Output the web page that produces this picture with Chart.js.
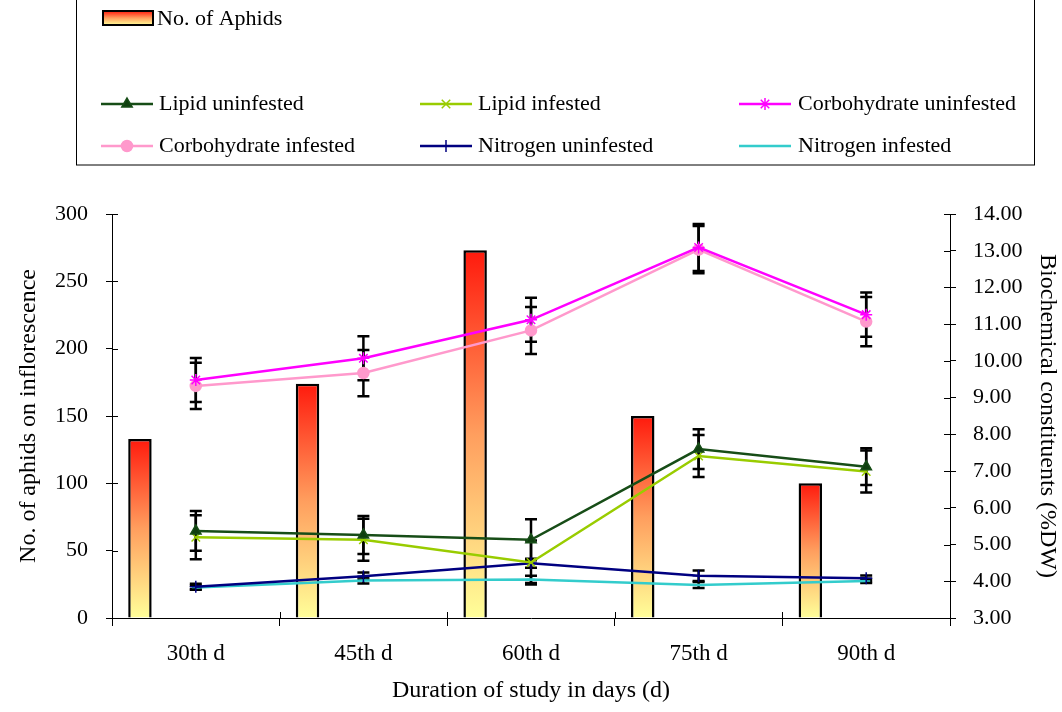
<!DOCTYPE html>
<html><head><meta charset="utf-8">
<script src="https://cdn.jsdelivr.net/npm/chart.js@4.4.1/dist/chart.umd.min.js"></script>
<style>html,body{margin:0;padding:0;background:#fff;}#wrap{width:1062px;height:712px;position:relative;}</style>
</head><body><div id="wrap"><canvas id="c" width="1062" height="712"></canvas></div>
<script>
// ---- data ----
const categories = ['30th d', '45th d', '60th d', '75th d', '90th d'];
const aphids = [133, 174, 273, 150, 100];
const lipidUn = [5.37, 5.26, 5.13, 7.60, 7.12];
const lipidInf = [5.20, 5.13, 4.51, 7.41, 6.99];
const carbUn = [9.48, 10.07, 11.12, 13.09, 11.26];
const carbInf = [9.32, 9.67, 10.83, 13.03, 11.07];
const nitUn = [3.85, 4.14, 4.49, 4.15, 4.08];
const nitInf = [3.83, 4.02, 4.05, 3.90, 4.01];
const lipidUnErr = [0.54, 0.52, 0.56, 0.54, 0.50];
const lipidInfErr = [0.60, 0.57, 0.60, 0.57, 0.57];
const carbUnErr = [0.60, 0.60, 0.60, 0.64, 0.60];
const carbInfErr = [0.63, 0.63, 0.64, 0.64, 0.67];
const nitUnErr = [0.08, 0.10, 0.12, 0.14, 0.08];
const nitInfErr = [0.05, 0.08, 0.10, 0.08, 0.06];
const spacer = [null, null, null, null, null];
const leftTicks = [0, 50, 100, 150, 200, 250, 300];
const rightTicks = [3, 4, 5, 6, 7, 8, 9, 10, 11, 12, 13, 14];

const FONT = "'Liberation Serif', 'Times New Roman', serif";

function makeGrad(c, top, bot) {
  const g = c.createLinearGradient(0, top, 0, bot);
  g.addColorStop(0, '#FF1A0D');
  g.addColorStop(0.5, '#FF9E5E');
  g.addColorStop(1, '#FFFF99');
  return g;
}
function barGradient(ctx) {
  const chart = ctx.chart;
  if (!chart.chartArea || ctx.type !== 'data' || ctx.raw == null) return '#FF9E5E';
  const y = chart.scales.y;
  return makeGrad(chart.ctx, y.getPixelForValue(ctx.raw), y.getPixelForValue(0));
}

const lineBase = {type: 'line', yAxisID: 'y1', borderWidth: 2.5, fill: false, tension: 0, order: 1, pointBorderWidth: 1.5};
const datasets = [
  {type: 'bar', label: 'No. of Aphids', data: aphids, yAxisID: 'y', backgroundColor: barGradient, borderColor: '#000', borderWidth: 2.5, barPercentage: 0.42, categoryPercentage: 1, order: 10},
  {type: 'bar', label: '', data: spacer, yAxisID: 'y', barPercentage: 0.42, categoryPercentage: 1, order: 10},
  {type: 'bar', label: '', data: spacer, yAxisID: 'y', barPercentage: 0.42, categoryPercentage: 1, order: 10},
  Object.assign({}, lineBase, {label: 'Lipid uninfested', data: lipidUn, err: lipidUnErr, borderColor: '#174D17', backgroundColor: '#0F3F0F', pointStyle: 'triangle', pointRadius: 6}),
  Object.assign({}, lineBase, {label: 'Lipid infested', data: lipidInf, err: lipidInfErr, borderColor: '#99CC00', backgroundColor: '#99CC00', pointStyle: 'crossRot', pointRadius: 6}),
  Object.assign({}, lineBase, {label: 'Corbohydrate uninfested', data: carbUn, err: carbUnErr, borderColor: '#FF00FF', backgroundColor: '#FF00FF', pointStyle: 'star', pointRadius: 6}),
  Object.assign({}, lineBase, {label: 'Corbohydrate infested', data: carbInf, err: carbInfErr, borderColor: '#FF99CC', backgroundColor: '#FF99CC', pointStyle: 'circle', pointRadius: 5.5}),
  Object.assign({}, lineBase, {label: 'Nitrogen uninfested', data: nitUn, err: nitUnErr, borderColor: '#000080', backgroundColor: '#000080', pointStyle: 'cross', pointRadius: 6}),
  Object.assign({}, lineBase, {label: 'Nitrogen infested', data: nitInf, err: nitInfErr, borderColor: '#33CCCC', backgroundColor: '#33CCCC', pointStyle: 'line', pointRadius: 4})
];

const errorBars = {
  id: 'errorBars',
  beforeDatasetsDraw(chart) {
    const c = chart.ctx, x = chart.scales.x, y1 = chart.scales.y1;
    c.save();
    c.strokeStyle = '#000'; c.lineWidth = 2.5; c.lineCap = 'butt';
    chart.data.datasets.forEach(ds => {
      if (!ds.err) return;
      ds.data.forEach((v, i) => {
        const px = x.getPixelForValue(i);
        const t = y1.getPixelForValue(v + ds.err[i]);
        const b = y1.getPixelForValue(v - ds.err[i]);
        c.beginPath();
        c.moveTo(px, t); c.lineTo(px, b);
        c.moveTo(px - 6, t); c.lineTo(px + 6, t);
        c.moveTo(px - 6, b); c.lineTo(px + 6, b);
        c.stroke();
      });
    });
    c.restore();
  }
};

const crossTicks = {
  id: 'crossTicks',
  afterDraw(chart) {
    const c = chart.ctx, {x, y, y1} = chart.scales;
    c.save(); c.strokeStyle = '#000'; c.lineWidth = 1;
    c.beginPath();
    y.ticks.forEach((t, i) => { const p = Math.round(y.getPixelForTick(i)) + 0.5; c.moveTo(y.right, p); c.lineTo(y.right + 6, p); });
    y1.ticks.forEach((t, i) => { const p = Math.round(y1.getPixelForTick(i)) + 0.5; c.moveTo(y1.left - 6, p); c.lineTo(y1.left, p); });
    for (let i = 0; i <= categories.length; i++) { const p = Math.round(x.getPixelForValue(i - 0.5)) + 0.5; c.moveTo(p, x.top - 6); c.lineTo(p, x.top); }
    c.stroke();
    c.restore();
  }
};

const customLegend = {
  id: 'customLegend',
  afterDraw(chart) {
    const c = chart.ctx;
    c.save();
    c.strokeStyle = '#000'; c.lineWidth = 1;
    c.strokeRect(76.5, -2, 958, 167);
    c.font = '22px ' + FONT; c.fillStyle = '#000'; c.textBaseline = 'middle'; c.textAlign = 'left';
    // bar entry
    c.fillStyle = makeGrad(c, 11, 25);
    c.fillRect(103, 11, 50, 14);
    c.strokeStyle = '#000'; c.lineWidth = 2; c.strokeRect(103, 11, 50, 14);
    c.fillStyle = '#000';
    c.fillText(chart.data.datasets[0].label, 157, 19);
    const cols = [[101, 159], [420, 478], [739, 798]];
    const rows = [104, 146];
    const lines = chart.data.datasets.filter(d => d.type === 'line');
    lines.forEach((d, k) => {
      const col = cols[k % 3], ry = rows[Math.floor(k / 3)];
      c.strokeStyle = d.borderColor; c.lineWidth = 2.5;
      c.beginPath(); c.moveTo(col[0], ry); c.lineTo(col[0] + 52, ry); c.stroke();
      c.fillStyle = d.backgroundColor; c.lineWidth = 1.5;
      Chart.helpers.drawPoint(c, {pointStyle: d.pointStyle, radius: d.pointRadius, rotation: 0, borderWidth: 1.5}, col[0] + 26, ry);
      c.fillStyle = '#000';
      c.fillText(d.label, col[1], ry);
    });
    c.restore();
  }
};

new Chart(document.getElementById('c'), {
  type: 'bar',
  data: {labels: categories, datasets: datasets},
  options: {
    responsive: false, animation: false,
    layout: {padding: {top: 214, left: 0, right: 0, bottom: 0}},
    plugins: {legend: {display: false}, tooltip: {enabled: false}},
    scales: {
      x: {
        type: 'category', offset: true,
        grid: {offset: true, drawOnChartArea: false, color: '#000', tickLength: 8, tickColor: '#000'},
        border: {color: '#000', width: 1},
        ticks: {color: '#000', font: {family: FONT, size: 23}, padding: 14, maxRotation: 0},
        title: {display: true, text: 'Duration of study in days (d)', color: '#000', font: {family: FONT, size: 24}, padding: {top: 0, bottom: 7}},
        afterFit(s) { s.height = 94; }
      },
      y: {
        position: 'left', min: 0, max: 300,
        afterBuildTicks(s) { s.ticks = leftTicks.map(v => ({value: v})); },
        grid: {drawOnChartArea: false, color: '#000', tickLength: 6, tickColor: '#000'},
        border: {color: '#000', width: 1},
        ticks: {color: '#000', font: {family: FONT, size: 22}, padding: 18},
        title: {display: true, text: 'No. of aphids on inflorescence', color: '#000', font: {family: FONT, size: 24}, padding: {top: 14, bottom: 0}},
        afterFit(s) { s.width = 112; }
      },
      y1: {
        position: 'right', min: 3, max: 14,
        afterBuildTicks(s) { s.ticks = rightTicks.map(v => ({value: v})); },
        grid: {drawOnChartArea: false, color: '#000', tickLength: 6, tickColor: '#000'},
        border: {color: '#000', width: 1},
        ticks: {color: '#000', font: {family: FONT, size: 22}, padding: 17, callback: v => Number(v).toFixed(2)},
        title: {display: true, text: 'Biochemical constituents (%DW)', color: '#000', font: {family: FONT, size: 24}, padding: {top: 0, bottom: 0}},
        afterFit(s) { s.width = 112; }
      }
    }
  },
  plugins: [errorBars, crossTicks, customLegend]
});
</script>
</body></html>
